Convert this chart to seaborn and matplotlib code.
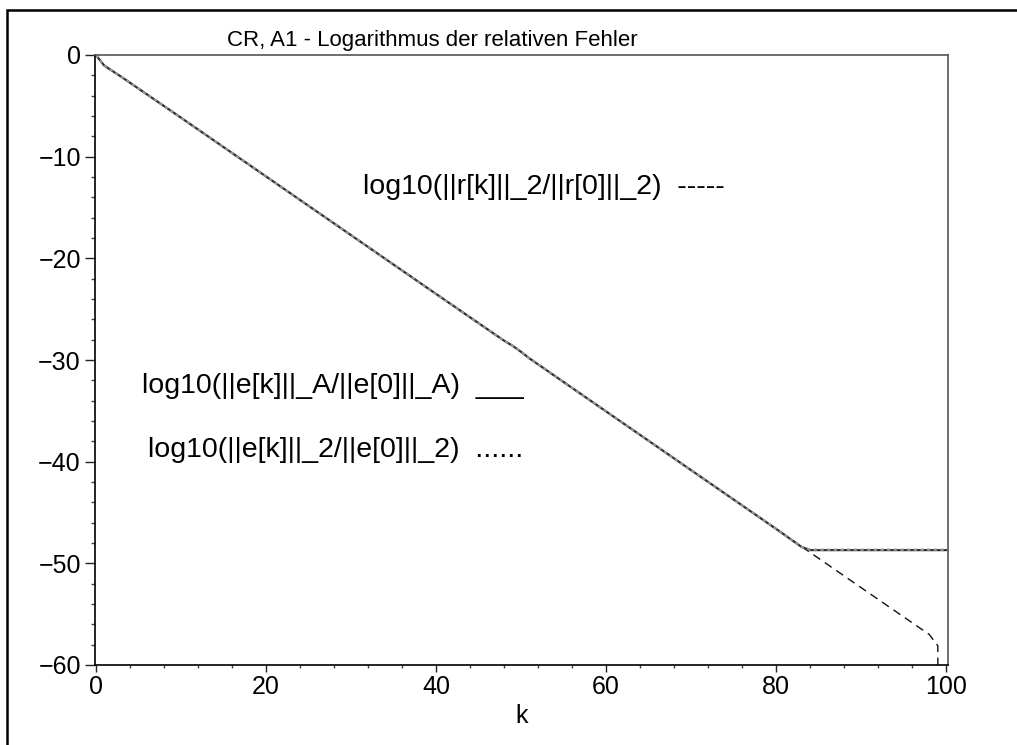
import matplotlib
matplotlib.use("Agg")
import matplotlib.pyplot as plt
from matplotlib.patches import Rectangle
from matplotlib.ticker import MultipleLocator
import pandas as pd
import seaborn as sns

# Iteration index and log10 of relative errors / residuals (CR method, matrix A1)
k_err = [0, 1, 2, 3, 10, 20, 30, 40, 48, 49, 50, 51, 60, 70, 80, 83, 84, 90, 100]
log_err_A = [0.0, -1.05, -1.6, -2.15, -6.16, -11.94, -17.72, -23.50, -28.1,
             -28.6, -29.2, -29.85, -35.06, -40.84, -46.62, -48.4, -48.7, -48.7, -48.7]
log_err_2 = [0.0, -1.0, -1.6, -2.15, -6.16, -11.94, -17.72, -23.50, -28.1,
             -28.6, -29.2, -29.85, -35.06, -40.84, -46.62, -48.4, -48.65, -48.65, -48.65]

k_res = [0, 1, 2, 3, 10, 20, 30, 40, 48, 49, 50, 51, 60, 70, 80, 83, 90, 98, 99, 100]
log_res_2 = [0.0, -1.05, -1.6, -2.15, -6.16, -11.94, -17.72, -23.50, -28.1,
             -28.6, -29.2, -29.85, -35.06, -40.84, -46.62, -48.36, -52.4, -57.0,
             -58.1, -320.0]

title = "CR, A1 - Logarithmus der relativen Fehler"
label_res = "log10(||r[k]||_2/||r[0]||_2)  -----"
label_errA = "log10(||e[k]||_A/||e[0]||_A)  ___"
label_err2 = "log10(||e[k]||_2/||e[0]||_2)  ......"
x_ticks = [0, 20, 40, 60, 80, 100]
y_ticks = [0, -10, -20, -30, -40, -50, -60]

sns.set_theme(style="white")
plt.rcParams["font.family"] = ["Liberation Sans", "DejaVu Sans"]
plt.rcParams["text.color"] = "black"
plt.rcParams["axes.labelcolor"] = "black"
plt.rcParams["xtick.color"] = "black"
plt.rcParams["ytick.color"] = "black"

fig = plt.figure(figsize=(10.17, 7.45), dpi=100)
ax = fig.add_axes([95 / 1017, 1 - 665 / 745, 853 / 1017, 610 / 745])

df_err = pd.DataFrame({"k": k_err, "A": log_err_A, "two": log_err_2})
df_res = pd.DataFrame({"k": k_res, "r": log_res_2})

sns.lineplot(data=df_res, x="k", y="r", ax=ax, color="#111111", lw=1.0,
             linestyle=(0, (6, 4)), estimator=None, sort=False)
sns.lineplot(data=df_err, x="k", y="A", ax=ax, color="#333333", lw=1.6,
             estimator=None, sort=False)
sns.lineplot(data=df_err, x="k", y="two", ax=ax, color="#999999", lw=1.6,
             linestyle=(0, (1.5, 1.5)), estimator=None, sort=False)

ax.set_xlim(-0.1, 100.2)
ax.set_ylim(-60, 0)
ax.set_xticks(x_ticks)
ax.set_yticks(y_ticks)
ax.set_yticklabels([f"\u2212{abs(v)}" if v < 0 else str(v) for v in y_ticks])
ax.xaxis.set_minor_locator(MultipleLocator(4))
ax.yaxis.set_minor_locator(MultipleLocator(2))
ax.tick_params(axis="x", which="major", direction="out", length=5, width=1,
               labelsize=18, pad=2, color="#222222", bottom=True)
ax.tick_params(axis="x", which="minor", direction="out", length=2.5, width=1,
               color="#444444", bottom=True)
ax.tick_params(axis="y", which="major", direction="out", length=7.2, width=1,
               labelsize=18, pad=3, color="#222222", left=True)
ax.tick_params(axis="y", which="minor", direction="out", length=3.2, width=1,
               color="#444444", left=True)
for side in ["left", "bottom"]:
    ax.spines[side].set_color("#000000")
    ax.spines[side].set_linewidth(1.2)
for side in ["top", "right"]:
    ax.spines[side].set_color("#555555")
    ax.spines[side].set_linewidth(1.2)

ax.set_xlabel("k", fontsize=18, labelpad=4)
ax.set_ylabel("")

ax.text(31.4, -13.7, label_res, fontsize=20.5, ha="left", va="baseline")
ax.text(5.4, -33.2, label_errA, fontsize=20.5, ha="left", va="baseline")
ax.text(6.1, -39.5, label_err2, fontsize=20.5, ha="left", va="baseline")

fig.text(432 / 1017, 1 - 46 / 745, title, fontsize=16, ha="center", va="baseline")

fig.add_artist(Rectangle((7 / 1017, -0.5), 2.0, 1.5 - 10 / 745,
                         transform=fig.transFigure, fill=False,
                         edgecolor="black", lw=1.8))

fig.savefig("out.png", dpi=100, facecolor="white")
